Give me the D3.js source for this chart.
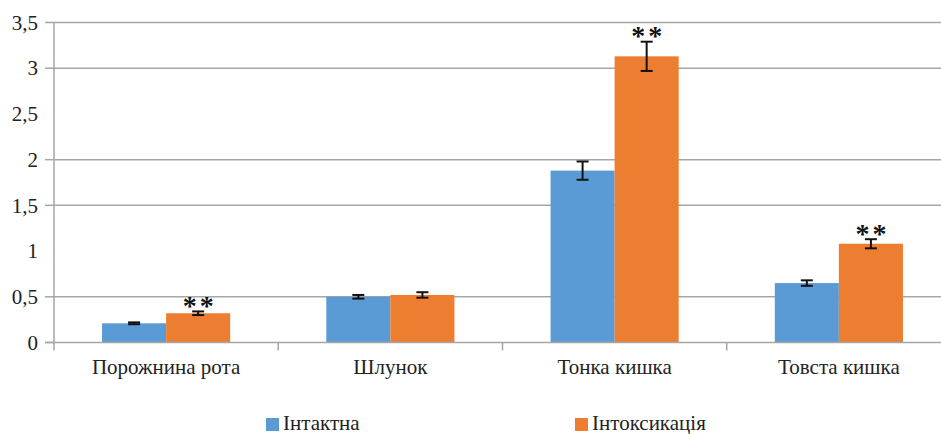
<!DOCTYPE html>
<html>
<head>
<meta charset="utf-8">
<script src="https://cdn.jsdelivr.net/npm/d3@7"></script>
<style>
  html, body { margin: 0; padding: 0; background: #fff; }
</style>
</head>
<body>
<svg id="chart" width="941" height="434"></svg>
<script>
// Categories (gut regions) and the two experimental groups
const categories = ["Порожнина рота", "Шлунок", "Тонка кишка", "Товста кишка"];
const seriesNames = ["Інтактна", "Інтоксикація"];
const intact = [0.21, 0.50, 1.88, 0.65];
const intactErr = [0.01, 0.02, 0.10, 0.03];
const intox = [0.32, 0.52, 3.13, 1.08];
const intoxErr = [0.02, 0.03, 0.16, 0.05];
const significance = ["**", "", "**", "**"];
const yTicks = [0, 0.5, 1, 1.5, 2, 2.5, 3, 3.5];
const yTickLabels = ["0", "0,5", "1", "1,5", "2", "2,5", "3", "3,5"];
const gridValues = [0.5, 1.5, 2, 3, 3.5];

const colors = ["#5b9bd5", "#ed7d31"];
const serif = "'Liberation Serif'";
const svg = d3.select("#chart");

// applies the serif face directly on each text node
const serifText = (sel, size) => sel.style("font-family", serif).style("font-size", size + "px").attr("fill", "#222");

const plotLeft = 54, plotRight = 951, plotTop = 22.5, plotBottom = 342.5;

const x = d3.scaleBand().domain(categories).range([plotLeft, plotRight]).paddingInner(0).paddingOuter(0);
const inner = d3.scaleBand().domain(seriesNames).range([0, x.bandwidth()]).paddingInner(0).paddingOuter(0.75);
const y = d3.scaleLinear().domain([0, 3.5]).range([plotBottom, plotTop]);

// gridlines
svg.append("g").selectAll("line").data(gridValues).join("line")
  .attr("x1", plotLeft).attr("x2", plotRight)
  .attr("y1", d => y(d)).attr("y2", d => y(d))
  .attr("stroke", "#a6a6a6").attr("stroke-width", 1.5);

// y axis (labels for every tick, marks only where grid is drawn)
const yAxis = d3.axisLeft(y).tickValues(yTicks).tickFormat((d, i) => yTickLabels[i]).tickSize(0).tickPadding(16);
const gy = svg.append("g").attr("transform", `translate(${plotLeft},0)`).call(yAxis);
gy.attr("font-family", serif).attr("font-size", 21);
gy.select(".domain").remove();
serifText(gy.selectAll("text"), 21);
svg.append("g").selectAll("line").data([0].concat(gridValues)).join("line")
  .attr("x1", plotLeft - 9).attr("x2", plotLeft)
  .attr("y1", d => y(d)).attr("y2", d => y(d))
  .attr("stroke", "#a6a6a6").attr("stroke-width", 1.5);

// bars
const series = [
  { name: seriesNames[0], values: intact, errs: intactErr, color: colors[0] },
  { name: seriesNames[1], values: intox, errs: intoxErr, color: colors[1] }
];
const rows = [];
series.forEach(s => categories.forEach((c, i) => rows.push({ cat: c, s: s.name, v: s.values[i], e: s.errs[i], color: s.color })));

svg.append("g").selectAll("rect").data(rows).join("rect")
  .attr("x", d => x(d.cat) + inner(d.s))
  .attr("width", inner.bandwidth())
  .attr("y", d => y(d.v))
  .attr("height", d => y(0) - y(d.v))
  .attr("fill", d => d.color);

// x axis baseline and category separators
svg.append("line").attr("x1", plotLeft - 9).attr("x2", plotRight)
  .attr("y1", y(0)).attr("y2", y(0)).attr("stroke", "#a6a6a6").attr("stroke-width", 1.5);
svg.append("line").attr("x1", plotLeft).attr("x2", plotLeft)
  .attr("y1", plotTop).attr("y2", y(0) + 8).attr("stroke", "#a6a6a6").attr("stroke-width", 1.5);
svg.append("g").selectAll("line").data(categories.slice(1)).join("line")
  .attr("x1", d => x(d)).attr("x2", d => x(d))
  .attr("y1", y(0)).attr("y2", y(0) + 8)
  .attr("stroke", "#a6a6a6").attr("stroke-width", 1.5);

const xAxis = d3.axisBottom(x).tickSize(0).tickPadding(17);
const gx = svg.append("g").attr("transform", `translate(0,${y(0)})`).call(xAxis);
gx.attr("font-family", serif).attr("font-size", 21);
gx.select(".domain").remove();
serifText(gx.selectAll("text"), 21);

// error bars
const eb = svg.append("g").attr("stroke", "#111").attr("stroke-width", 2);
rows.forEach(d => {
  const cx = x(d.cat) + inner(d.s) + inner.bandwidth() / 2;
  eb.append("line").attr("x1", cx).attr("x2", cx).attr("y1", y(d.v + d.e)).attr("y2", y(d.v - d.e));
  [d.v + d.e, d.v - d.e].forEach(v => eb.append("line")
    .attr("x1", cx - 6).attr("x2", cx + 6).attr("y1", y(v)).attr("y2", y(v)));
});

// significance marks above the intoxication bars
const sig = svg.append("g").attr("font-family", serif).attr("font-size", 28).attr("font-weight", "bold");
categories.forEach((c, i) => {
  const marks = significance[i].split("");
  const cx = x(c) + inner(seriesNames[1]) + inner.bandwidth() / 2;
  marks.forEach((m, j) => {
    sig.append("text")
      .attr("x", cx + (j - (marks.length - 1) / 2) * 17)
      .attr("y", y(intox[i] + intoxErr[i]) - 12)
      .attr("dy", "0.55em")
      .attr("text-anchor", "middle")
      .attr("fill", "#111")
      .text(m);
  });
});

// legend
const legend = svg.append("g");
const legendX = [266, 575];
seriesNames.forEach((n, i) => {
  legend.append("rect").attr("x", legendX[i]).attr("y", 418).attr("width", 13).attr("height", 13).attr("fill", colors[i]);
  serifText(legend.append("text").attr("x", legendX[i] + 17).attr("y", 430), 21).text(n);
});
</script>
</body>
</html>
